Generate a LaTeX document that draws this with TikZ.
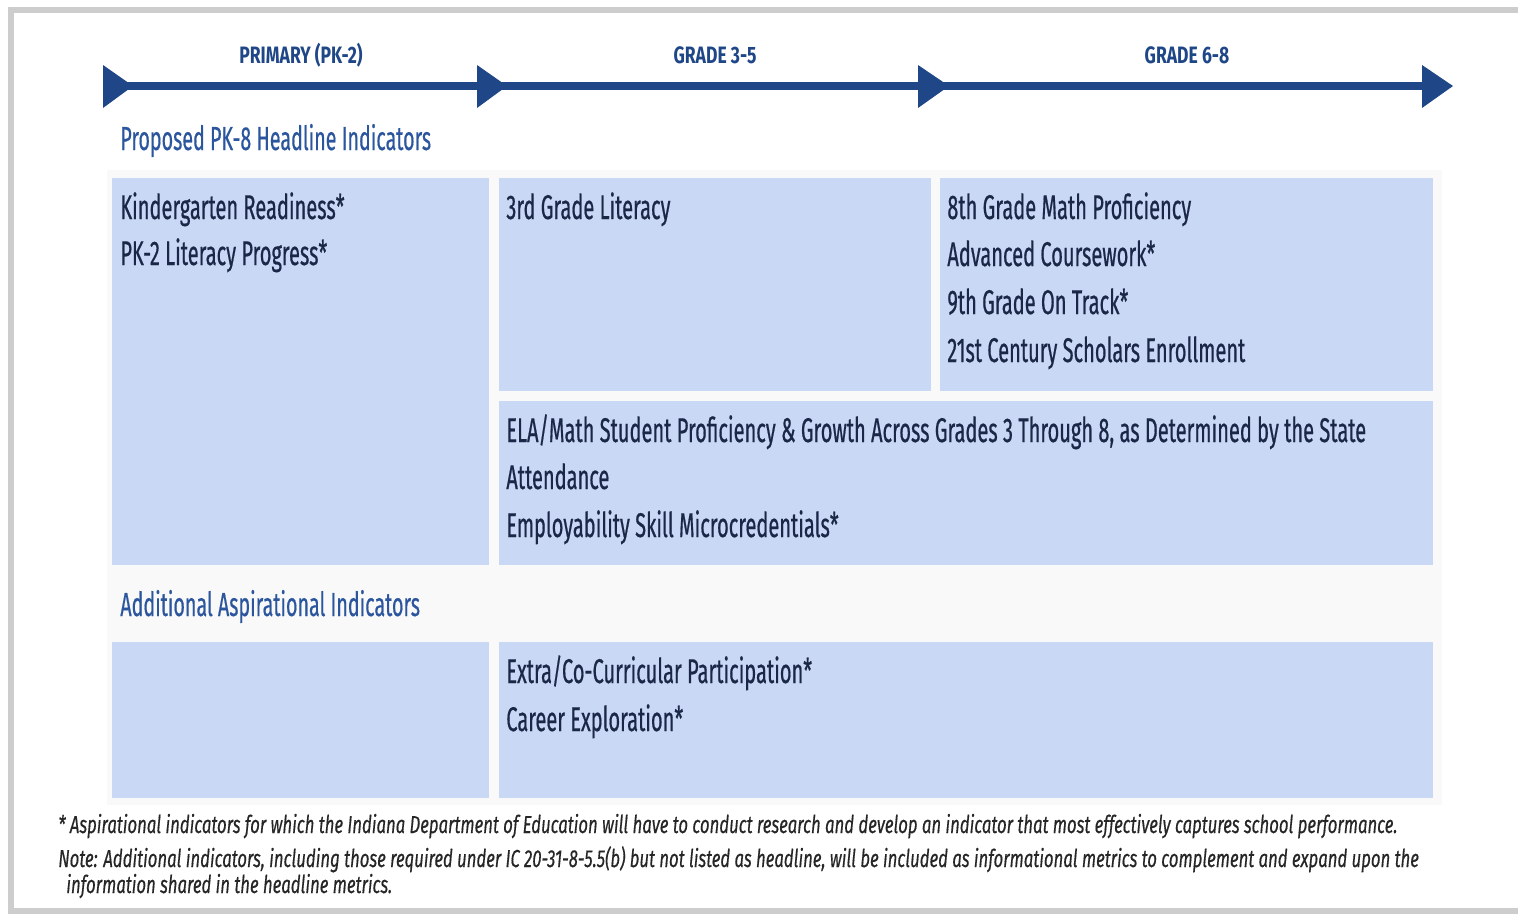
\documentclass[tikz,border=0pt]{standalone}
\usepackage{fontspec}
\setmainfont[FakeStretch=0.55]{Fira Sans}
\newfontfamily\itemfont[FakeStretch=0.585, FakeBold=0.5]{Fira Sans}
\newfontfamily\headfont[FakeStretch=0.59, FakeBold=0.4]{Fira Sans}
\newfontfamily\stagefont[FakeStretch=0.74]{Fira Sans}
\newfontfamily\notefont[FakeStretch=0.68, FakeBold=0.4]{Fira Sans}
\usetikzlibrary{positioning}
\definecolor{timeblue}{HTML}{1F4788}
\definecolor{headblue}{HTML}{2B569E}
\definecolor{cellblue}{HTML}{C9D8F5}
\definecolor{panelgray}{HTML}{F9F9F9}
\definecolor{cellink}{HTML}{1B2746}
\definecolor{framegray}{HTML}{CDCDCD}

\begin{document}
\begin{tikzpicture}[x=0.02cm, y=-0.02cm,
		stage/.style={font=\stagefont\fontsize{13.5}{15}\selectfont\bfseries, text=timeblue, inner sep=0mm, anchor=base},
		heading/.style={font=\headfont\fontsize{19}{22}\selectfont, text=headblue, inner sep=0mm, anchor=base west},
		item/.style={font=\itemfont\fontsize{19.5}{22}\selectfont, text=cellink, inner sep=0mm, anchor=base west},
		note/.style={font=\notefont\fontsize{14}{16}\selectfont\itshape, text=black!85, inner sep=0mm, anchor=base west},
		cell/.style={fill=cellblue},
		head/.style={fill=timeblue}]
		\useasboundingbox (0, 0) rectangle (1518, 913);
		\fill[white] (0, 0) rectangle (1518, 913);
		% page frame
		\draw[framegray, line width=3pt] (1518, 10) -- (11, 10) -- (11, 911) -- (1518, 911);
		% time line
		\coordinate (start) at (103, 86);
		\coordinate (stop) at (1440, 86);
		\draw[timeblue, line width=5pt] (start) -- (stop);
		\fill[head] (103, 65) -- (133, 86) -- (103, 108) -- cycle;
		\fill[head] (477, 65) -- (507, 86) -- (477, 108) -- cycle;
		\fill[head] (918, 65) -- (949, 86) -- (918, 108) -- cycle;
		\fill[head] (1422, 65) -- (1453, 86) -- (1422, 108) -- cycle;
		\node[stage] (primary) at (301, 63) {PRIMARY (PK-2)};
		\node[stage] (grade35) at (715, 63) {GRADE 3-5};
		\node[stage] (grade68) at (1187, 63) {GRADE 6-8};
		% panel and cells
		\fill[panelgray] (107, 170) rectangle (1442, 805);
		\fill[cell] (112, 178) rectangle (489, 565);
		\fill[cell] (499, 178) rectangle (931, 391);
		\fill[cell] (940, 178) rectangle (1433, 391);
		\fill[cell] (499, 401) rectangle (1433, 565);
		\fill[cell] (112, 642) rectangle (489, 798);
		\fill[cell] (499, 642) rectangle (1433, 798);
		\node[heading] (headline) at (120, 150) {Proposed PK-8 Headline Indicators};
		\node[heading] (aspire) at (120, 616) {Additional Aspirational Indicators};
		\node[item] (kready) at (120, 219) {Kindergarten Readiness*};
		\node[item] (pkliteracy) at (120, 265) {PK-2 Literacy Progress*};
		\node[item] (literacy) at (506, 219) {3rd Grade Literacy};
		\node[item] (math) at (947, 219) {8th Grade Math Proficiency};
		\node[item] (advanced) at (947, 266) {Advanced Coursework*};
		\node[item] (ontrack) at (947, 314) {9th Grade On Track*};
		\node[item] (scholars) at (947, 362) {21st Century Scholars Enrollment};
		\node[item] (growth) at (506, 442) {ELA/Math Student Proficiency \& Growth Across Grades 3 Through 8, as Determined by the State};
		\node[item] (attendance) at (506, 489) {Attendance};
		\node[item] (employ) at (506, 537) {Employability Skill Microcredentials*};
		\node[item] (extra) at (506, 683) {Extra/Co-Curricular Participation*};
		\node[item] (career) at (506, 731) {Career Exploration*};
		% notes
		\node[note] (star) at (58, 833) {* Aspirational indicators for which the Indiana Department of Education will have to conduct research and develop an indicator that most effectively captures school performance.};
		\node[note] (note) at (58, 867) {Note: Additional indicators, including those required under IC 20-31-8-5.5(b) but not listed as headline, will be included as informational metrics to complement and expand upon the};
		\node[note] (noteb) at (66, 893) {information shared in the headline metrics.};
	\end{tikzpicture}
\end{document}
